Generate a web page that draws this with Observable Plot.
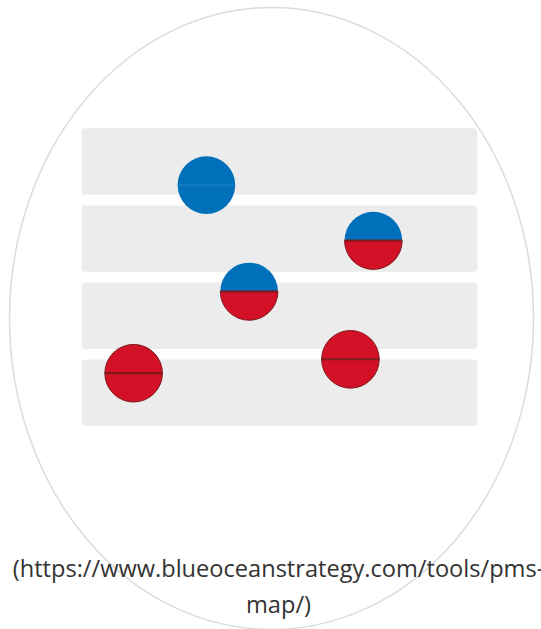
<!DOCTYPE html>
<html>
<head>
<meta charset="utf-8">
<script src="https://cdn.jsdelivr.net/npm/d3@7"></script>
<script src="https://cdn.jsdelivr.net/npm/@observablehq/plot@0.6"></script>
<style>
  html, body { margin: 0; padding: 0; background: #fff; overflow: hidden; }
  #wrap { position: relative; width: 541px; height: 629px; }
  #caption {
    position: absolute; left: -1px; top: 550px; width: 559px;
    text-align: center; font-family: "Open Sans", sans-serif; font-size: 23.6px;
    line-height: 36px; color: #333; white-space: nowrap;
  }
</style>
</head>
<body>
<div id="wrap"><div id="chart"></div><div id="caption"></div></div>
<script>
// Bands (rows of the PMS map), top to bottom
const bands = [0, 1, 2, 3];

// Businesses in the portfolio
const types = ["pioneer", "migrator", "migrator", "settler", "settler"];
const xs = [3.14, 7.36, 4.22, 1.30, 6.78];
const ys = [0.73, 1.45, 2.11, 3.17, 2.99];

const captionText = "(https://www.blueoceanstrategy.com/tools/pms-map/)";

const blue = "#0070ba";
const red = "#d21026";
const darkRed = "#7e1a1f";

const units = types.map((t, i) => ({type: t, x: xs[i], y: ys[i]}));

const topHalf = {
  draw(ctx, size) {
    const r = Math.sqrt(size / Math.PI);
    ctx.moveTo(-r, 0);
    ctx.arc(0, 0, r, Math.PI, 2 * Math.PI);
    ctx.closePath();
  }
};
const bottomHalf = {
  draw(ctx, size) {
    const r = Math.sqrt(size / Math.PI);
    ctx.moveTo(r, 0);
    ctx.arc(0, 0, r, 0, Math.PI);
    ctx.closePath();
  }
};
const midLine = {
  draw(ctx, size) {
    const r = Math.sqrt(size / Math.PI);
    ctx.moveTo(-r, 0);
    ctx.lineTo(r, 0);
  }
};

const R = 28.8;

const chart = Plot.plot({
  width: 541,
  height: 629,
  margin: 0,
  style: {background: "#fff", overflow: "visible"},
  x: {domain: [0, 10], range: [81.7, 477.3], axis: null},
  y: {domain: [0, 4], range: [128.3, 436.7], axis: null},
  marks: [
    Plot.frame({
      stroke: "#dcdcdc", strokeWidth: 1.5,
      insetLeft: 9, insetRight: 8, insetTop: 7, insetBottom: 0,
      rx: 262, ry: 311
    }),
    Plot.rect(bands, {
      x1: 0, x2: 10, y1: d => d, y2: d => d + 1,
      insetBottom: 10.7, fill: "#ececec", rx: 4
    }),
    // top halves
    Plot.dot(units, {filter: d => d.type !== "settler", x: "x", y: "y", r: R, symbol: topHalf, fill: blue, stroke: "none"}),
    Plot.dot(units, {filter: d => d.type === "settler", x: "x", y: "y", r: R, symbol: topHalf, fill: red, stroke: darkRed, strokeWidth: 1}),
    // bottom halves
    Plot.dot(units, {filter: d => d.type === "pioneer", x: "x", y: "y", r: R, symbol: bottomHalf, fill: blue, stroke: "none"}),
    Plot.dot(units, {filter: d => d.type !== "pioneer", x: "x", y: "y", r: R, symbol: bottomHalf, fill: red, stroke: darkRed, strokeWidth: 1}),
    // dividing lines
    Plot.dot(units, {filter: d => d.type === "pioneer", x: "x", y: "y", r: R, symbol: midLine, fill: "none", stroke: "#1f82c6", strokeWidth: 1}),
    Plot.dot(units, {filter: d => d.type !== "pioneer", x: "x", y: "y", r: R, symbol: midLine, fill: "none", stroke: darkRed, strokeWidth: 2})
  ]
});
document.getElementById("chart").appendChild(chart);

const parts = captionText.split("pms-");
const cap = document.getElementById("caption");
cap.appendChild(document.createTextNode(parts[0] + "pms-"));
cap.appendChild(document.createElement("br"));
cap.appendChild(document.createTextNode(parts[1]));
</script>
</body>
</html>
